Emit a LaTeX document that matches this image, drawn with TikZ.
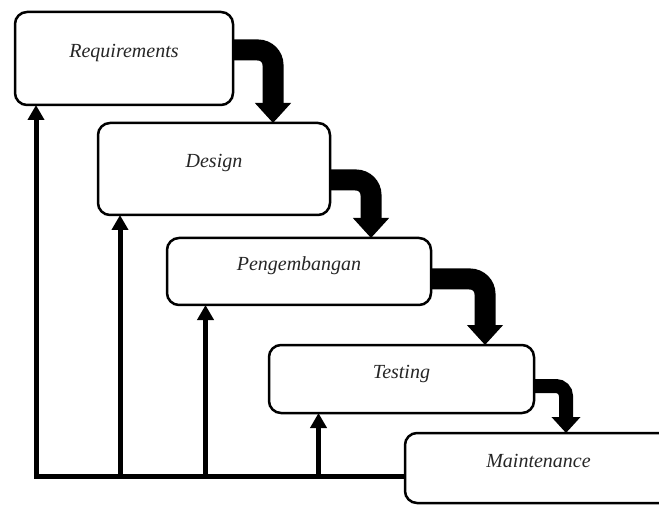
\documentclass[tikz,border=0pt]{standalone}
\usepackage{fontspec}
\setmainfont{Liberation Serif}
\usetikzlibrary{arrows.meta}
\tikzset{
  phase/.style={draw=black, line width=2.5pt, rounded corners=12pt, outer sep=0pt,
    fill=white, text=black!85, font=\fontsize{20}{24}\selectfont\itshape,
    text height=14pt, text depth=16pt, inner sep=0pt},
  bigarrow/.style={line width=21pt, rounded corners=15pt,
    -{Triangle[width=35pt,length=20pt]}},
  smallarrow/.style={line width=14pt, rounded corners=10pt,
    -{Triangle[width=28pt,length=16pt]}},
  fb/.style={line width=5pt, line join=miter, -{Triangle[width=16pt,length=15pt]}}
}
\begin{document}
\begin{tikzpicture}[x=1pt,y=-1pt]
\useasboundingbox (0,0) rectangle (659,505);
\clip (0,0) rectangle (659,505);
\node[phase, minimum width=218pt, minimum height=93pt] (req) at (124,58.5) {Requirements};
\node[phase, minimum width=232pt, minimum height=92pt] (des) at (214,169) {Design};
\node[phase, minimum width=264pt, minimum height=67pt] (pen) at (299,271.5) {Pengembangan};
\node[phase, minimum width=265pt, minimum height=68pt] (tst) at (401.5,379) {Testing};
\node[phase, minimum width=267pt, minimum height=70pt] (mnt) at (538.5,468) {Maintenance};

\draw[bigarrow] ([yshift=8.5pt]req.east) -| ([xshift=59pt]des.north);
\draw[bigarrow] ([yshift=-11pt]des.east) -| ([xshift=72pt]pen.north);
\draw[bigarrow] ([yshift=-7.5pt]pen.east) -| ([xshift=83.5pt]tst.north);
\draw[smallarrow] ([yshift=-7pt]tst.east) -| ([xshift=27.5pt]mnt.north);

\coordinate (base) at ([yshift=-8pt]mnt.west);
\coordinate (r1) at ([xshift=-88pt]req.south);
\coordinate (d1) at ([xshift=-94pt]des.south);
\coordinate (p1) at ([xshift=-93.5pt]pen.south);
\coordinate (t1) at ([xshift=-83pt]tst.south);
\draw[fb] (base) -| (r1);
\draw[fb] (base -| d1) -- (d1);
\draw[fb] (base -| p1) -- (p1);
\draw[fb] (base -| t1) -- (t1);
\end{tikzpicture}
\end{document}
